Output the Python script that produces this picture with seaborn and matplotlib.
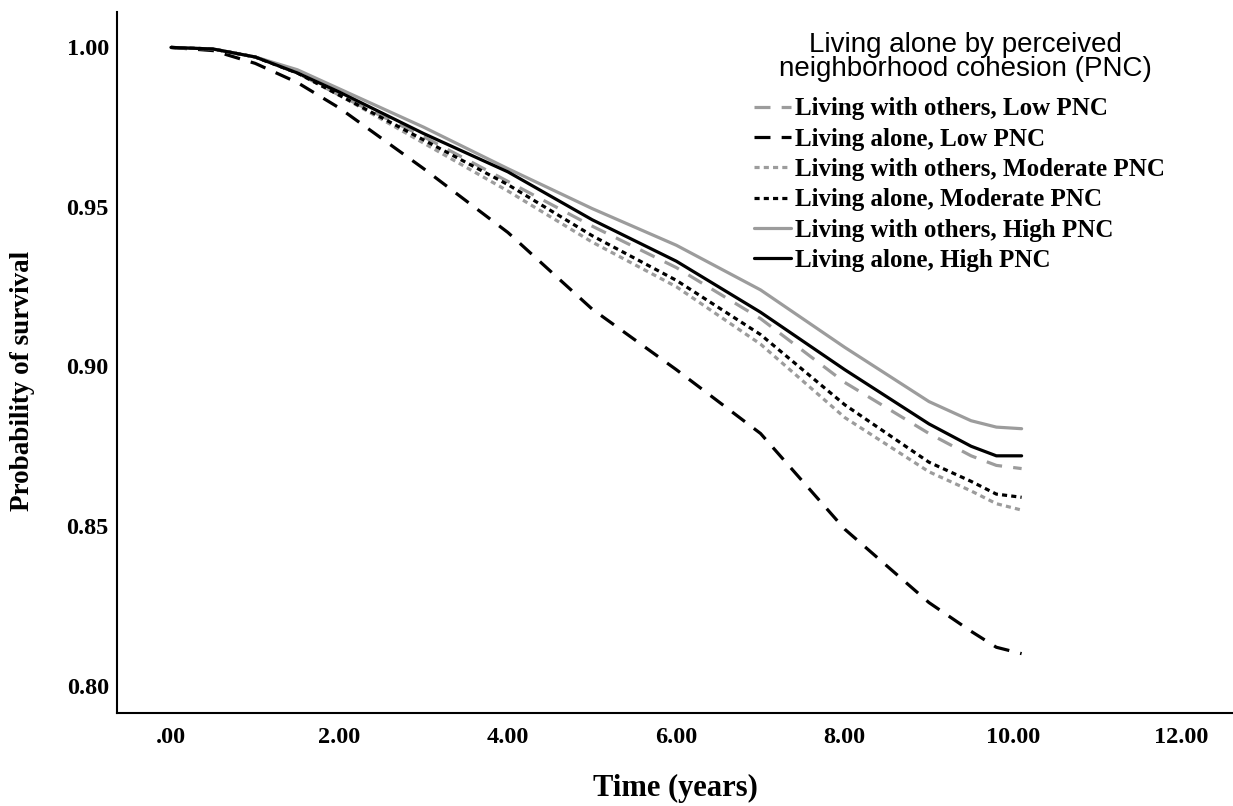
import matplotlib
matplotlib.use("Agg")
import matplotlib.pyplot as plt
import pandas as pd
import seaborn as sns

# survival estimates (time in years)
groups = [
    "Living with others, Low PNC",
    "Living alone, Low PNC",
    "Living with others, Moderate PNC",
    "Living alone, Moderate PNC",
    "Living with others, High PNC",
    "Living alone, High PNC",
]
times = [0, 0.5, 1, 1.5, 2, 3, 4, 5, 6, 7, 8, 9, 9.5, 9.8, 10.1]
others_low = [1.000, 0.9995, 0.997, 0.992, 0.985, 0.972, 0.958, 0.944, 0.931, 0.915, 0.895, 0.879, 0.872, 0.869, 0.868]
alone_low = [1.000, 0.999, 0.995, 0.989, 0.981, 0.962, 0.942, 0.918, 0.899, 0.879, 0.849, 0.826, 0.817, 0.812, 0.810]
others_mod = [1.000, 0.9995, 0.997, 0.992, 0.985, 0.970, 0.955, 0.939, 0.925, 0.907, 0.884, 0.867, 0.861, 0.857, 0.855]
alone_mod = [1.000, 0.9995, 0.997, 0.992, 0.985, 0.971, 0.957, 0.941, 0.927, 0.910, 0.888, 0.870, 0.864, 0.860, 0.859]
others_high = [1.000, 0.9995, 0.997, 0.993, 0.987, 0.975, 0.962, 0.9495, 0.938, 0.924, 0.906, 0.889, 0.883, 0.881, 0.8805]
alone_high = [1.000, 0.9995, 0.997, 0.992, 0.986, 0.973, 0.961, 0.946, 0.933, 0.917, 0.899, 0.882, 0.875, 0.872, 0.872]

xtick_vals = [0, 2, 4, 6, 8, 10, 12]
xtick_labels = [".00", "2.00", "4.00", "6.00", "8.00", "10.00", "12.00"]
ytick_vals = [0.80, 0.85, 0.90, 0.95, 1.00]
ytick_labels = ["0.80", "0.85", "0.90", "0.95", "1.00"]
legend_title = "Living alone by perceived\nneighborhood cohesion (PNC)"

series = [others_low, alone_low, others_mod, alone_mod, others_high, alone_high]
rows = []
for g, vals in zip(groups, series):
    for t, v in zip(times, vals):
        rows.append({"group": g, "time": t, "surv": v})
df = pd.DataFrame(rows)

gray = "#9c9c9c"
colors = [gray, "black", gray, "black", gray, "black"]
dashes = [(5, 3.5), (5, 3.5), (1.6, 1.3), (1.6, 1.3), "", ""]

sns.set_theme(style="white")
plt.rcParams["font.family"] = ["Liberation Serif", "DejaVu Serif"]

fig = plt.figure(figsize=(12.33, 8.06), dpi=100)
ax = fig.add_axes([0.095, 0.1154, 0.905, 0.8697])

for g, c, d in zip(groups, colors, dashes):
    sub = df[df.group == g]
    sns.lineplot(data=sub, x="time", y="surv", color=c, linewidth=2.3, ax=ax, label=g)
    if d:
        ax.lines[-1].set_dashes(d)

ax.set_xlim(-0.64, 12.61)
ax.set_ylim(0.7914, 1.0111)
ax.set_xticks(xtick_vals)
ax.set_xticklabels(xtick_labels, fontsize=17.5, fontweight="bold")
ax.set_yticks(ytick_vals)
ax.set_yticklabels(ytick_labels, fontsize=17.5, fontweight="bold")
ax.tick_params(axis="x", length=0, pad=10, colors="black")
ax.tick_params(axis="y", length=0, pad=6, colors="black")

ax.set_xlabel("Time (years)", fontsize=22, fontweight="bold", labelpad=19, color="black")
ax.set_ylabel("Probability of survival", fontsize=19.5, fontweight="bold", color="black")
ax.yaxis.set_label_coords(-0.0735, 0.474)

for s in ["top", "right"]:
    ax.spines[s].set_visible(False)
for s in ["left", "bottom"]:
    ax.spines[s].set_color("black")
    ax.spines[s].set_linewidth(1.5)

fig.text(965 / 1233, 1 - 57 / 806, legend_title, family="Liberation Sans", fontsize=20,
         ha="center", va="center", linespacing=0.95, color="black")

leg = ax.legend(
    loc="upper left",
    bbox_to_anchor=(741 / 1233, 1 - 85 / 806),
    bbox_transform=fig.transFigure,
    frameon=False,
    prop={"family": "Liberation Serif", "weight": "bold", "size": 18},
    handlelength=1.5,
    handletextpad=0.15,
    labelspacing=0.29,
    borderpad=0.0,
)
for t in leg.get_texts():
    t.set_color("black")

fig.savefig("out.png", dpi=100)
